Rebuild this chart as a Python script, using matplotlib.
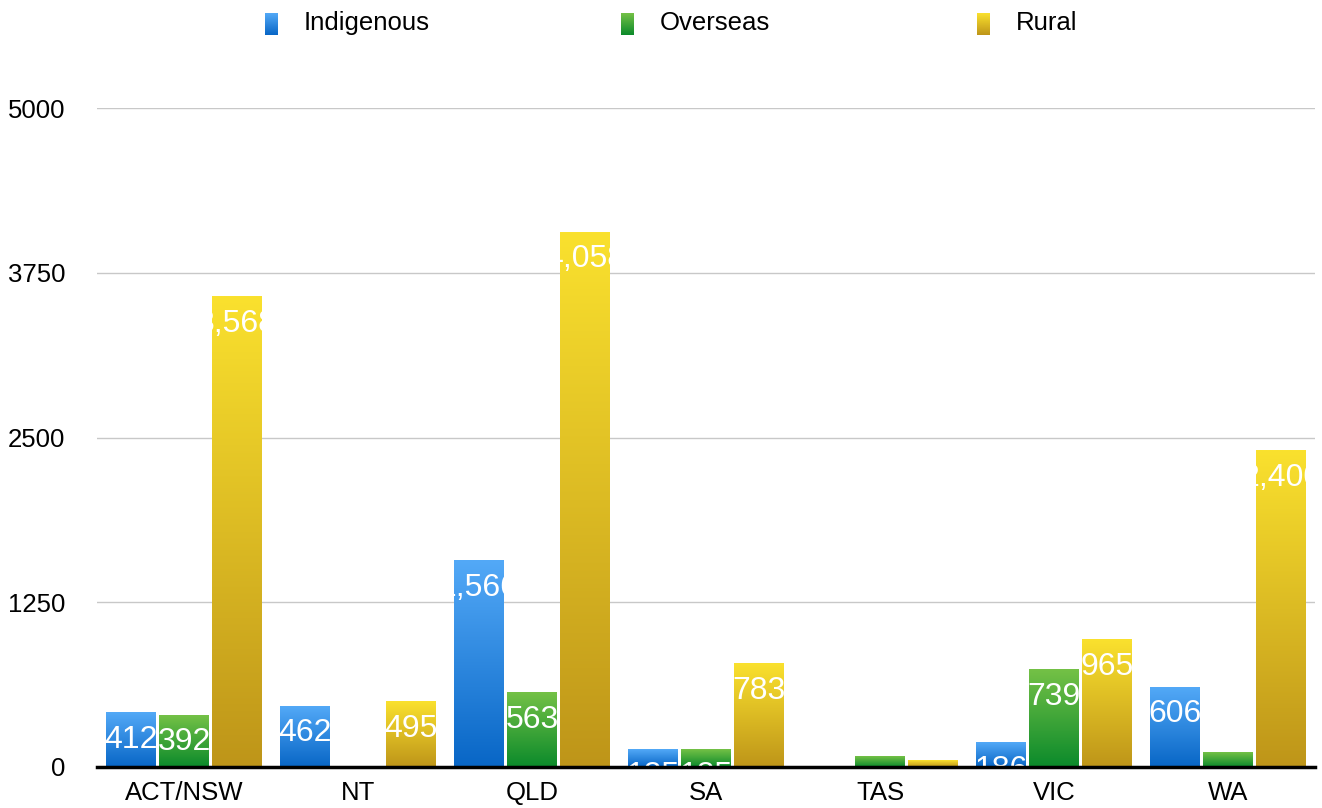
import numpy as np
import matplotlib
matplotlib.use("Agg")
import matplotlib.pyplot as plt
from matplotlib.colors import LinearSegmentedColormap

plt.rcParams['font.family'] = ['Liberation Sans', 'DejaVu Sans']

categories = ["ACT/NSW", "NT", "QLD", "SA", "TAS", "VIC", "WA"]
series_names = ["Indigenous", "Overseas", "Rural"]
indigenous = [412, 462, 1566, 135, 0, 186, 606]
overseas = [392, 0, 563, 135, 76, 739, 107]
rural = [3568, 495, 4058, 783, 53, 965, 2400]
yticks = [0, 1250, 2500, 3750, 5000]

series = [indigenous, overseas, rural]
grad = [("#0866C6", "#53A9F7"), ("#0B8A2B", "#74C146"), ("#BE9519", "#FAE12E")]

W, H = 1322, 808
fig = plt.figure(figsize=(W / 100, H / 100), dpi=100)
ax = fig.add_axes([97 / W, 1 - 767 / H, (1315 - 97) / W, (767 - 108) / H])

x = np.arange(len(categories))
bw = 0.287
step = 0.305
grad_img = np.linspace(0, 1, 256).reshape(-1, 1)

for si, vals in enumerate(series):
    cmap = LinearSegmentedColormap.from_list(f"g{si}", list(grad[si]))
    offs = (si - 1) * step
    bars = ax.bar(x + offs, vals, width=bw, color="none", edgecolor="none", zorder=3)
    for xi, v, b in zip(x, vals, bars):
        if v <= 0:
            continue
        x0 = xi + offs - bw / 2
        ax.imshow(grad_img, extent=(x0, x0 + bw, 0, v), origin="lower",
                  cmap=cmap, aspect="auto", zorder=3, interpolation="bilinear")
        if v < 100:
            continue  # label fully clipped away (invisible) in the reference
        t = ax.annotate(f"{v:,}", (xi + offs, v), xytext=(0, -19.5), textcoords="offset points",
                        ha="center", va="center", color="white", fontsize=23, zorder=4)
        t.set_clip_path(b)

ax.set_xlim(-0.5, len(categories) - 0.5)
ax.set_ylim(0, 5000)
ax.set_yticks(yticks)
ax.set_yticklabels([str(v) for v in yticks], fontsize=18.5)
ax.set_xticks(x)
ax.set_xticklabels(categories, fontsize=18.5)
ax.tick_params(axis="both", length=0)
ax.tick_params(axis="y", pad=23)
ax.tick_params(axis="x", pad=10)
ax.grid(axis="y", color="#c8c8c8", lw=1, zorder=0)
ax.set_axisbelow(True)
for s in ["top", "right", "left"]:
    ax.spines[s].set_visible(False)
ax.spines["bottom"].set_linewidth(2.5)
ax.spines["bottom"].set_color("black")
ax.spines["bottom"].set_zorder(5)

# legend
sw_x = [265, 621, 977]
for si, name in enumerate(series_names):
    cmap = LinearSegmentedColormap.from_list(f"l{si}", list(grad[si]))
    lax = fig.add_axes([sw_x[si] / W, 1 - 35 / H, 13 / W, 22 / H])
    lax.imshow(grad_img, origin="lower", cmap=cmap, aspect="auto", extent=(0, 1, 0, 1))
    lax.axis("off")
    fig.text((sw_x[si] + 39) / W, 1 - 23 / H, name, fontsize=18.5, va="center", ha="left")

fig.savefig("out.png", dpi=100)
